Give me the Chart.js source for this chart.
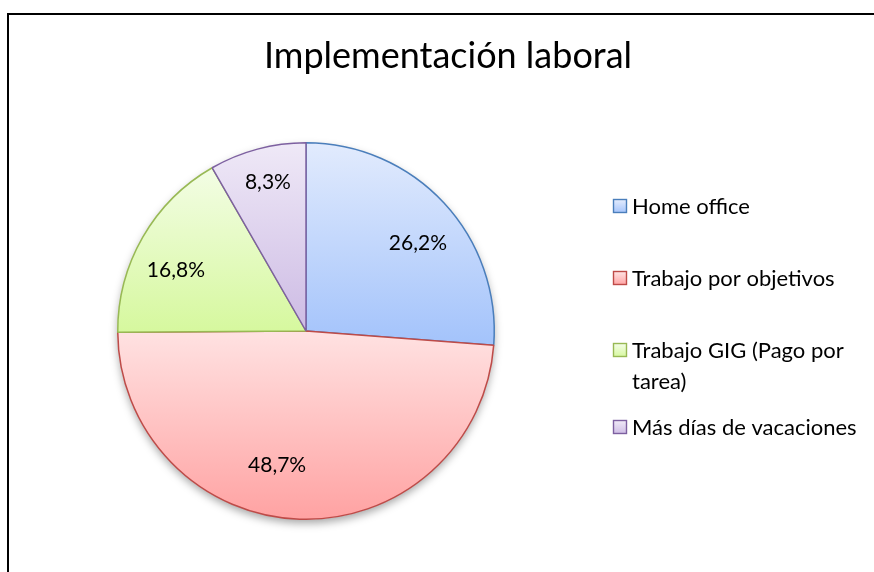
<!DOCTYPE html>
<html>
<head>
<meta charset="utf-8">
<script src="https://cdn.jsdelivr.net/npm/chart.js@4.4.1/dist/chart.umd.min.js"></script>
<style>
html,body{margin:0;padding:0;background:#fff;}
#wrap{width:874px;height:572px;position:relative;}
</style>
</head>
<body>
<div id="wrap"><canvas id="c" width="874" height="572"></canvas></div>
<script>
const titleText = 'Implementación laboral';
const categories = ['Home office', 'Trabajo por objetivos', 'Trabajo GIG (Pago por tarea)', 'Más días de vacaciones'];
const legendLines = [['Home office'], ['Trabajo por objetivos'], ['Trabajo GIG (Pago por', 'tarea)'], ['Más días de vacaciones']];
const values = [26.2, 48.7, 16.8, 8.3];
const valueLabels = ['26,2%', '48,7%', '16,8%', '8,3%'];
const gradTop = ['#e2ebfd', '#ffe2e2', '#f3fde5', '#efe9f7'];
const gradBottom = ['#a3c3fb', '#ffa2a2', '#d6f89e', '#cdbbe4'];
const borderColors = ['#4a7ebb', '#be4b48', '#98b954', '#7d60a0'];

const FONT = 'Lato, "Open Sans", sans-serif';

function sliceExtent(chart, i) {
  const a = chart.chartArea;
  const cx = (a.left + a.right) / 2, cy = (a.top + a.bottom) / 2;
  const r = Math.min(a.right - a.left, a.bottom - a.top) / 2;
  const total = values.reduce((s, v) => s + v, 0);
  let cum = 0;
  for (let k = 0; k < i; k++) cum += values[k];
  const s = -Math.PI / 2 + cum / total * 2 * Math.PI;
  const e = s + values[i] / total * 2 * Math.PI;
  const ys = [cy, cy + r * Math.sin(s), cy + r * Math.sin(e)];
  for (let k = -4; k <= 8; k++) {
    const ang = k * Math.PI / 2;
    if (ang > s && ang < e) ys.push(cy + r * Math.sin(ang));
  }
  return [Math.min(...ys), Math.max(...ys)];
}

const framePlugin = {
  id: 'frame',
  beforeDraw(chart) {
    const ctx = chart.ctx;
    ctx.save();
    ctx.fillStyle = '#fff';
    ctx.fillRect(0, 0, chart.width, chart.height);
    ctx.strokeStyle = '#000';
    ctx.lineWidth = 2;
    ctx.strokeRect(8, 14, 1000, 1000);
    ctx.fillStyle = '#000';
    ctx.font = '36px ' + FONT;
    ctx.textAlign = 'center';
    ctx.textBaseline = 'alphabetic';
    ctx.fillText(titleText, 448, 68);
    ctx.restore();
  },
  beforeDatasetsDraw(chart) {
    const meta = chart.getDatasetMeta(0);
    const arc = meta.data[0];
    if (!arc) return;
    const ctx = chart.ctx;
    ctx.save();
    ctx.beginPath();
    ctx.arc(arc.x, arc.y, arc.outerRadius, 0, Math.PI * 2);
    ctx.shadowColor = 'rgba(0,0,0,0.35)';
    ctx.shadowBlur = 9;
    ctx.shadowOffsetY = 4;
    ctx.fillStyle = '#fff';
    ctx.fill();
    ctx.restore();
  },
  afterDatasetsDraw(chart) {
    const ctx = chart.ctx;
    const meta = chart.getDatasetMeta(0);
    ctx.save();
    ctx.fillStyle = '#000';
    ctx.font = '21px ' + FONT;
    ctx.textAlign = 'center';
    ctx.textBaseline = 'middle';
    // label placement inside each slice (radial fraction, angular nudge in degrees)
    const frac = [0.757, 0.728, 0.763, 0.817];
    const nudge = [4.6, 10.2, -4.8, 0.6];
    meta.data.forEach((el, i) => {
      const p = el.getProps(['x', 'y', 'startAngle', 'endAngle', 'outerRadius'], true);
      const mid = (p.startAngle + p.endAngle) / 2 + nudge[i] * Math.PI / 180;
      const rr = p.outerRadius * frac[i];
      ctx.fillText(valueLabels[i], p.x + Math.cos(mid) * rr, p.y + Math.sin(mid) * rr);
    });
    // legend
    ctx.textAlign = 'left';
    ctx.font = '22px ' + FONT;
    const ys = [206, 278, 350, 427];
    legendLines.forEach((lines, i) => {
      const y = ys[i];
      const g = ctx.createLinearGradient(0, y - 6, 0, y + 7);
      g.addColorStop(0, gradTop[i]);
      g.addColorStop(1, gradBottom[i]);
      ctx.fillStyle = g;
      ctx.fillRect(613.5, y - 6.5, 13, 13);
      ctx.strokeStyle = borderColors[i];
      ctx.lineWidth = 1.4;
      ctx.strokeRect(613.5, y - 6.5, 13, 13);
      ctx.fillStyle = '#000';
      lines.forEach((t, j) => ctx.fillText(t, 632, y + 1 + j * 31));
    });
    ctx.restore();
  }
};

new Chart(document.getElementById('c'), {
  type: 'pie',
  data: {
    labels: categories,
    datasets: [{
      data: values,
      backgroundColor: (c) => {
        const chart = c.chart;
        if (!chart.chartArea) return gradTop[c.dataIndex];
        const [y0, y1] = sliceExtent(chart, c.dataIndex);
        const g = chart.ctx.createLinearGradient(0, y0, 0, y1);
        g.addColorStop(0, gradTop[c.dataIndex]);
        g.addColorStop(1, gradBottom[c.dataIndex]);
        return g;
      },
      borderColor: borderColors,
      borderWidth: 1.5,
      borderAlign: 'center',
      hoverOffset: 0,
      offset: 0
    }]
  },
  options: {
    responsive: false,
    animation: false,
    rotation: 0,
    layout: { padding: { left: 117, right: 379, top: 142, bottom: 52 } },
    plugins: {
      legend: { display: false },
      title: { display: false },
      tooltip: { enabled: false }
    }
  },
  plugins: [framePlugin]
});
</script>
</body>
</html>
